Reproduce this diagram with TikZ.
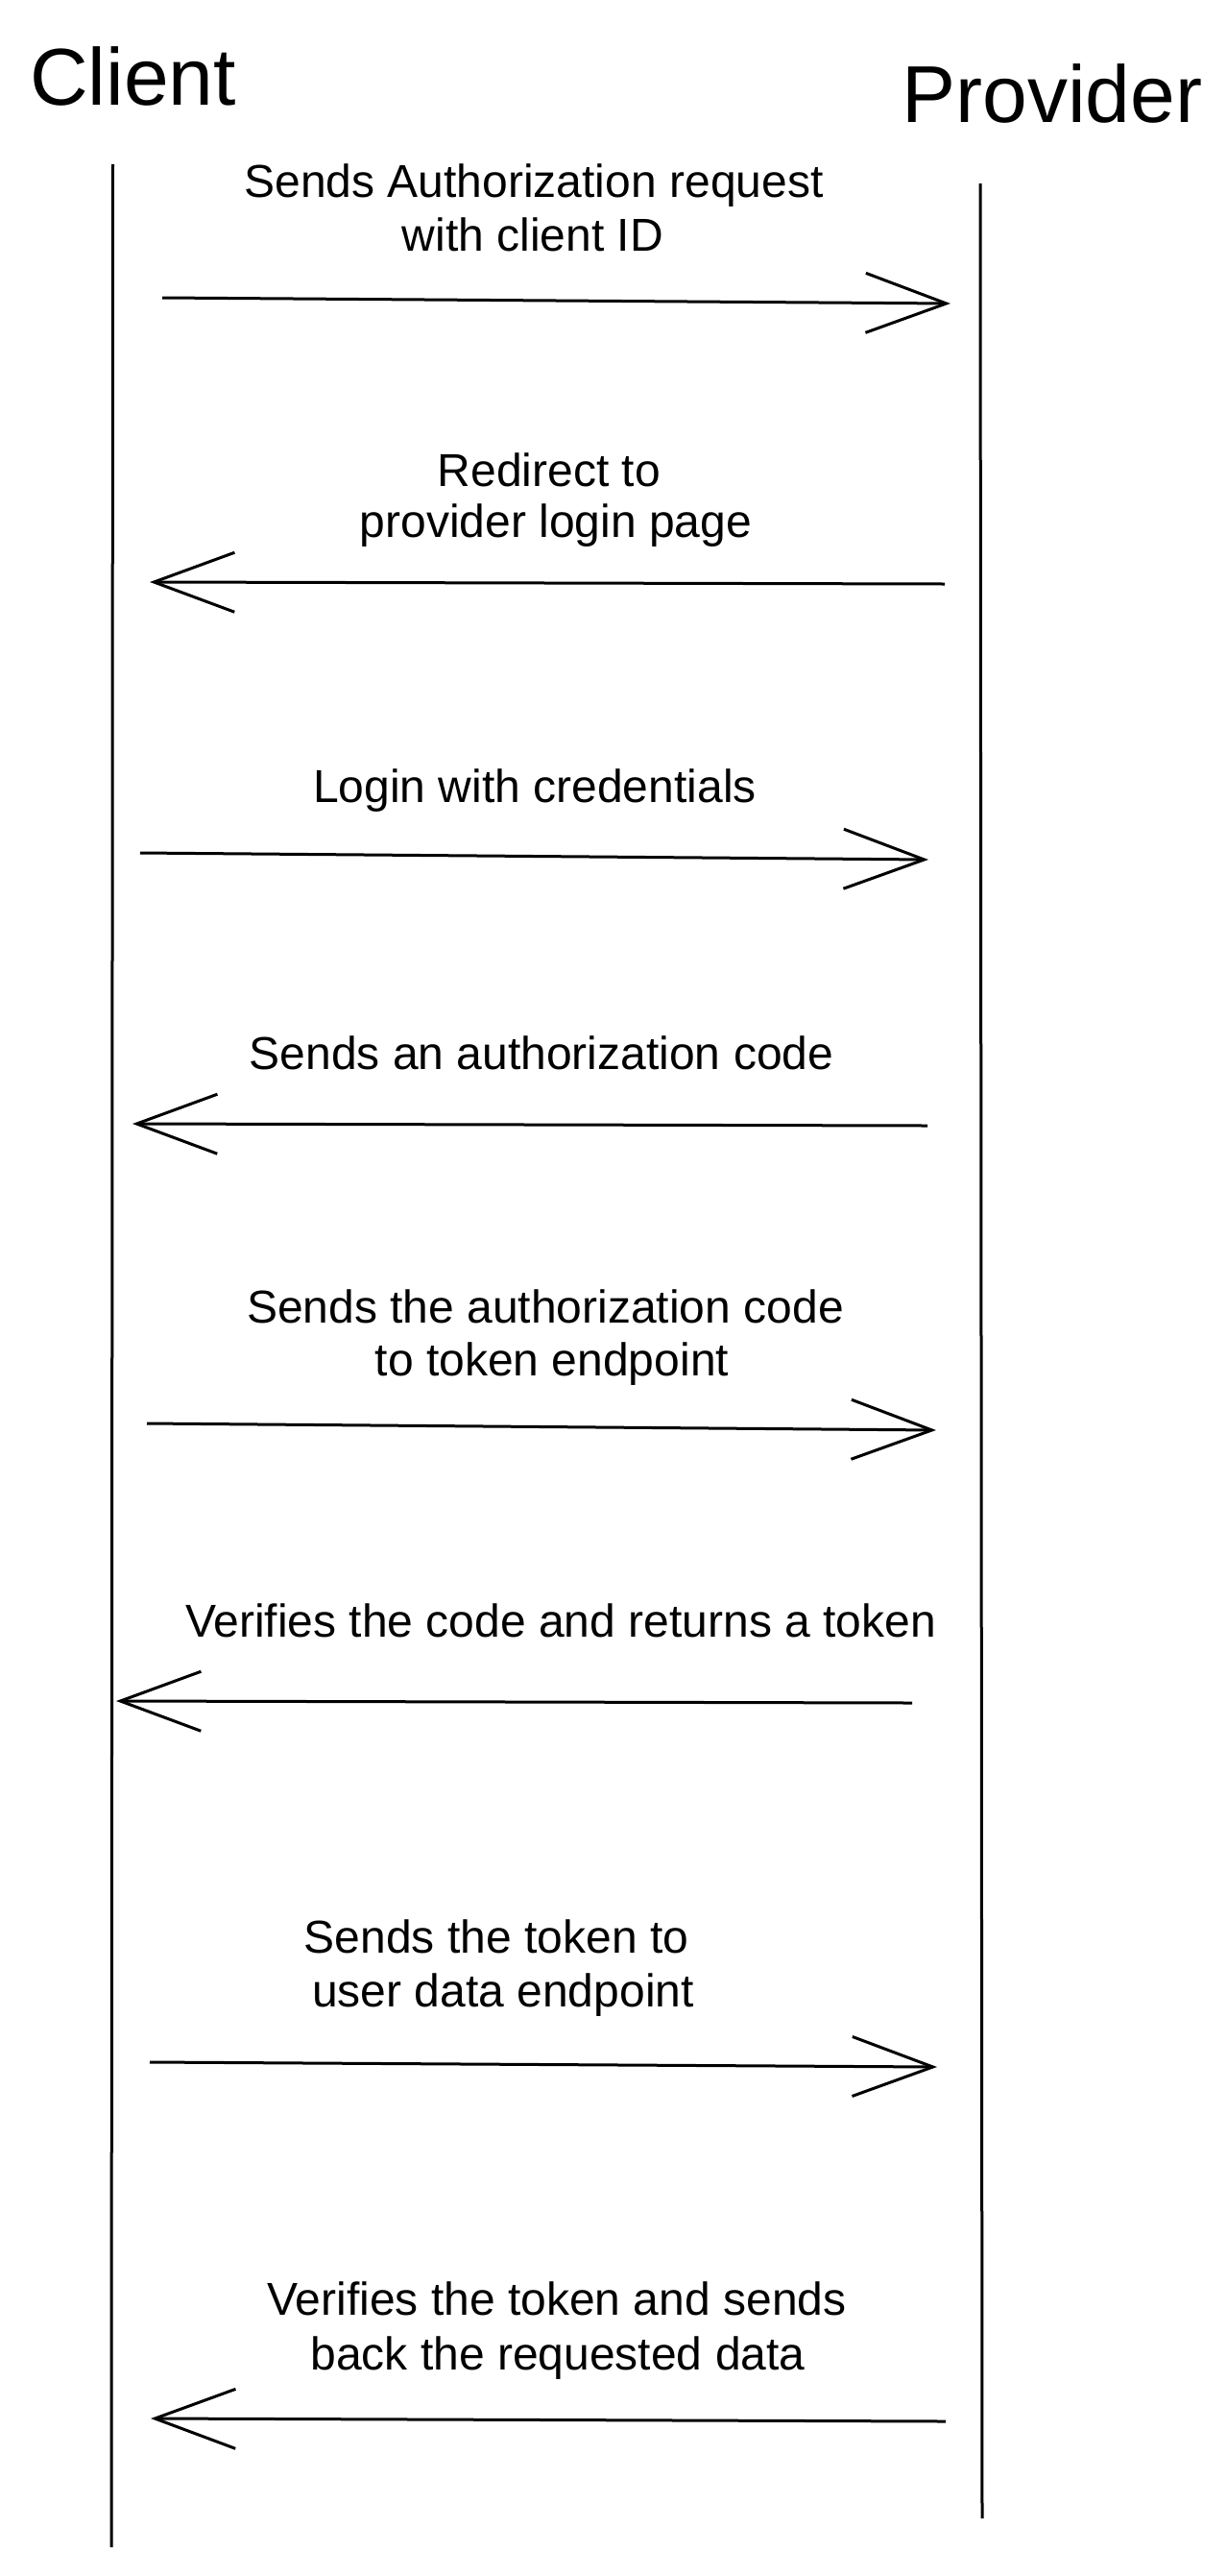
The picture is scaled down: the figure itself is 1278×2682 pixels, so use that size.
\documentclass[tikz,border=0pt]{standalone}
\usepackage{fontspec}
\setmainfont{Liberation Sans}
\usetikzlibrary{arrows.meta}
\begin{document}
\begin{tikzpicture}[x=0.5pt,y=-0.5pt,
  title/.style={anchor=base,inner sep=0pt,font=\fontsize{42pt}{50pt}\selectfont},
  msg/.style={anchor=base,inner sep=0pt,font=\fontsize{24pt}{28pt}\selectfont},
  lifeline/.style={line width=1.5pt},
  call/.style={line width=1.5pt,-{Straight Barb[length=42pt,width=31pt,line width=1.5pt]}}]
\useasboundingbox[fill=white] (0,0) rectangle (1278,2682);
% titles
\node[title] (client) at (138.5,109) {Client};
\node[title] (provider) at (1096,127) {Provider};
% lifelines
\coordinate (cTop) at (117.5,171);
\coordinate (cBot) at (116,2652);
\coordinate (pTop) at (1021,191);
\coordinate (pBot) at (1023,2622);
\draw[lifeline] (cTop) -- (cBot);
\draw[lifeline] (pTop) -- (pBot);
% labels
\node[msg] (l1a) at (556,205) {Sends Authorization request};
\node[msg] (l1b) at (555,261) {with client ID};
\node[msg] (l2a) at (572,506) {Redirect to};
\node[msg] (l2b) at (579,559) {provider login page};
\node[msg] (l3) at (557,835) {Login with credentials};
\node[msg] (l4) at (564,1113) {Sends an authorization code};
\node[msg] (l5a) at (568,1377) {Sends the authorization code};
\node[msg] (l5b) at (575,1432) {to token endpoint};
\node[msg] (l6) at (584,1704) {Verifies the code and returns a token};
\node[msg] (l7a) at (517,2033) {Sends the token to};
\node[msg] (l7b) at (524,2089) {user data endpoint};
\node[msg] (l8a) at (580,2410) {Verifies the token and sends};
\node[msg] (l8b) at (581,2467) {back the requested data};
% message end points
\coordinate (a1s) at (169,310);  \coordinate (a1e) at (990,316);
\coordinate (a2s) at (984,608);  \coordinate (a2e) at (156,606);
\coordinate (a3s) at (146,888);  \coordinate (a3e) at (967,895);
\coordinate (a4s) at (966,1172); \coordinate (a4e) at (138,1170);
\coordinate (a5s) at (153,1482); \coordinate (a5e) at (975,1489);
\coordinate (a6s) at (950,1773); \coordinate (a6e) at (121,1771);
\coordinate (a7s) at (156,2147); \coordinate (a7e) at (976,2152);
\coordinate (a8s) at (985,2521); \coordinate (a8e) at (157,2518);
\draw[call] (a1s) -- (a1e);
\draw[call] (a2s) -- (a2e);
\draw[call] (a3s) -- (a3e);
\draw[call] (a4s) -- (a4e);
\draw[call] (a5s) -- (a5e);
\draw[call] (a6s) -- (a6e);
\draw[call] (a7s) -- (a7e);
\draw[call] (a8s) -- (a8e);
\end{tikzpicture}
\end{document}
